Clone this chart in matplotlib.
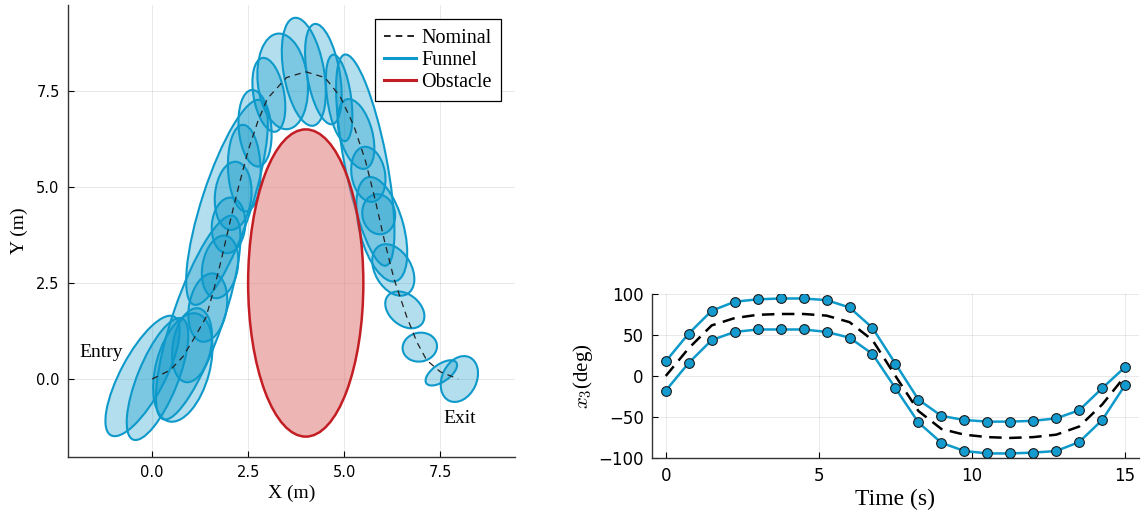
import matplotlib
matplotlib.use('Agg')
import matplotlib.pyplot as plt
from matplotlib.patches import Ellipse
from matplotlib.lines import Line2D

plt.rcParams['mathtext.fontset'] = 'cm'

SERIF = ['Liberation Serif', 'DejaVu Serif']
BLUE = '#0E99CB'
FILL = '#0094C6'
RED = '#C41E25'

# ---- left panel: nominal path in the plane ----
nom_x = [0.0, 0.47, 0.8, 1.07, 1.4, 1.6, 1.8, 2.03, 2.25, 2.5, 2.75, 3.0, 3.5, 4.0,
         4.5, 4.9, 5.25, 5.55, 5.8, 6.05, 6.3, 6.63, 6.9, 7.15, 7.5, 7.97]
nom_y = [0.0, 0.23, 0.58, 1.02, 1.6, 2.3, 3.1, 4.1, 5.0, 5.95, 6.7, 7.3, 7.85, 8.0,
         7.85, 7.35, 6.6, 5.7, 4.7, 3.6, 2.6, 1.62, 0.95, 0.49, 0.19, 0.0]

# funnel ellipses: centre, major axis, minor axis, angle (deg)
ell_x = [1.2, 1.95, -0.25, 0.14, 0.8, 1.04, 1.45, 1.77, 1.99, 2.11, 2.4, 2.68,
         3.04, 3.4, 3.95, 4.46, 4.87, 5.55, 5.98, 5.31, 5.63, 5.9, 6.28, 6.58,
         6.97, 7.53, 8.0]
ell_y = [1.6, 4.6, 0.08, 0.0, 0.3, 0.88, 1.86, 2.92, 4.0, 4.77, 5.49, 6.53,
         7.4, 7.75, 8.0, 7.94, 7.32, 5.7, 3.9, 6.38, 5.33, 4.29, 2.84, 1.8,
         0.83, 0.16, 0.0]
ell_a = [5.6, 5.6, 3.5, 3.4, 2.9, 1.95, 1.8, 1.65, 1.45, 1.78, 2.26, 2.0,
         1.95, 2.5, 2.85, 2.65, 2.27, 5.6, 2.8, 1.87, 1.45, 1.05, 1.45, 1.15,
         0.9, 0.95, 1.25]
ell_b = [1.3, 1.3, 1.15, 1.05, 1.4, 1.0, 0.98, 0.92, 0.87, 0.95, 0.85, 0.85,
         0.8, 1.3, 1.05, 0.85, 0.62, 1.1, 1.15, 0.85, 0.87, 0.85, 0.95, 0.8,
         0.75, 0.45, 0.9]
ell_ang = [71, 72, 62, 68, 75, 80, 80, 80, 85, 85, 92, 95,
           100, 96, 100, 100, 98, 101, 105, 105, 100, 100, 120, 140,
           10, 35, 65]

obs_center = (4.0, 2.5)
obs_w, obs_h = 3.0, 8.0

# ---- right panel: heading funnel over time ----
t = [0, 0.75, 1.5, 2.25, 3, 3.75, 4.5, 5.25, 6, 6.75, 7.5, 8.25, 9, 9.75,
     10.5, 11.25, 12, 12.75, 13.5, 14.25, 15]
x3_nom = [0, 34, 62, 71, 75, 76, 76, 74, 66, 44, 0, -43, -65, -72,
          -75, -76, -75, -72, -62, -35, 0]
x3_up = [18, 52, 80, 91, 94, 95, 95, 93, 84, 59, 15, -29, -49, -54,
         -56, -56, -55, -52, -42, -15, 11]
x3_lo = [-18, 16, 44, 54, 57, 57, 57, 54, 47, 27, -15, -57, -82, -92,
         -95, -95, -94, -92, -81, -54, -11]

fig = plt.figure(figsize=(11.41, 5.17), dpi=100)

# left
ax = fig.add_axes([0.0596, 0.1161, 0.3918, 0.8743])
for cx, cy, a, b, ang in zip(ell_x, ell_y, ell_a, ell_b, ell_ang):
    ax.add_patch(Ellipse((cx, cy), a, b, angle=ang, facecolor=FILL, alpha=0.3,
                         edgecolor='none', zorder=2))
    ax.add_patch(Ellipse((cx, cy), a, b, angle=ang, facecolor='none',
                         edgecolor=BLUE, lw=1.5, zorder=3))
ax.add_patch(Ellipse(obs_center, obs_w, obs_h, facecolor='#E07878', alpha=0.55,
                     edgecolor='none', zorder=4))
ax.add_patch(Ellipse(obs_center, obs_w, obs_h, facecolor='none',
                     edgecolor=RED, lw=1.8, zorder=5))
ax.plot(nom_x, nom_y, color='#222222', lw=0.9, ls=(0, (5, 4)), zorder=6)

ax.text(-1.33, 0.68, 'Entry', family=SERIF, fontsize=14, ha='center', va='center')
ax.text(8.0, -1.02, 'Exit', family=SERIF, fontsize=14, ha='center', va='center')

ax.set_xlim(-2.19, 9.45)
ax.set_ylim(-2.03, 9.74)
ax.set_xticks([0, 2.5, 5, 7.5])
ax.set_yticks([0, 2.5, 5, 7.5])
ax.set_xticklabels(['0.0', '2.5', '5.0', '7.5'])
ax.set_yticklabels(['0.0', '2.5', '5.0', '7.5'])
ax.set_xlabel('X (m)', family=SERIF, fontsize=14, labelpad=3)
ax.set_ylabel('Y (m)', family=SERIF, fontsize=14, labelpad=6)

handles = [Line2D([], [], color='black', lw=1.2, ls=(0, (4, 3))),
           Line2D([], [], color=BLUE, lw=2.2),
           Line2D([], [], color=RED, lw=2.2)]
leg = ax.legend(handles, ['Nominal', 'Funnel', 'Obstacle'], loc='upper right',
                bbox_to_anchor=(0.968, 0.968), prop={'family': SERIF, 'size': 14.5},
                frameon=True, fancybox=False, framealpha=1, borderpad=0.45,
                labelspacing=0.15, handlelength=1.6, handletextpad=0.25,
                borderaxespad=0)
leg.get_frame().set_edgecolor('black')
leg.get_frame().set_linewidth(0.9)
leg.set_zorder(10)

# right
ax2 = fig.add_axes([0.5714, 0.1135, 0.4268, 0.3186])
ax2.plot(t, x3_nom, color='black', lw=1.8, ls=(0, (5, 3)), zorder=3)
for vals in (x3_up, x3_lo):
    ax2.plot(t, vals, color=BLUE, lw=1.8, marker='o', ms=7,
             mfc='#139BCF', mec='#1a1a1a', mew=0.8, zorder=4)
ax2.set_xlim(-0.45, 15.45)
ax2.set_ylim(-101, 101)
ax2.set_xticks([0, 5, 10, 15])
ax2.set_yticks([-100, -50, 0, 50, 100])
ax2.set_xlabel('Time (s)', family=SERIF, fontsize=17, labelpad=3)
ax2.set_ylabel('$x_3$(deg)', family=SERIF, fontsize=15, labelpad=2)

for a, fs in ((ax, 10.5), (ax2, 12)):
    a.grid(True, color='#000000', alpha=0.1, lw=0.6, zorder=0)
    a.set_axisbelow(True)
    for s in ('top', 'right'):
        a.spines[s].set_visible(False)
    for s in ('left', 'bottom'):
        a.spines[s].set_linewidth(1.0)
        a.spines[s].set_color('#333333')
    a.tick_params(direction='in', length=4, width=0.8, labelsize=fs, pad=6)

fig.savefig('out.png', dpi=100)
